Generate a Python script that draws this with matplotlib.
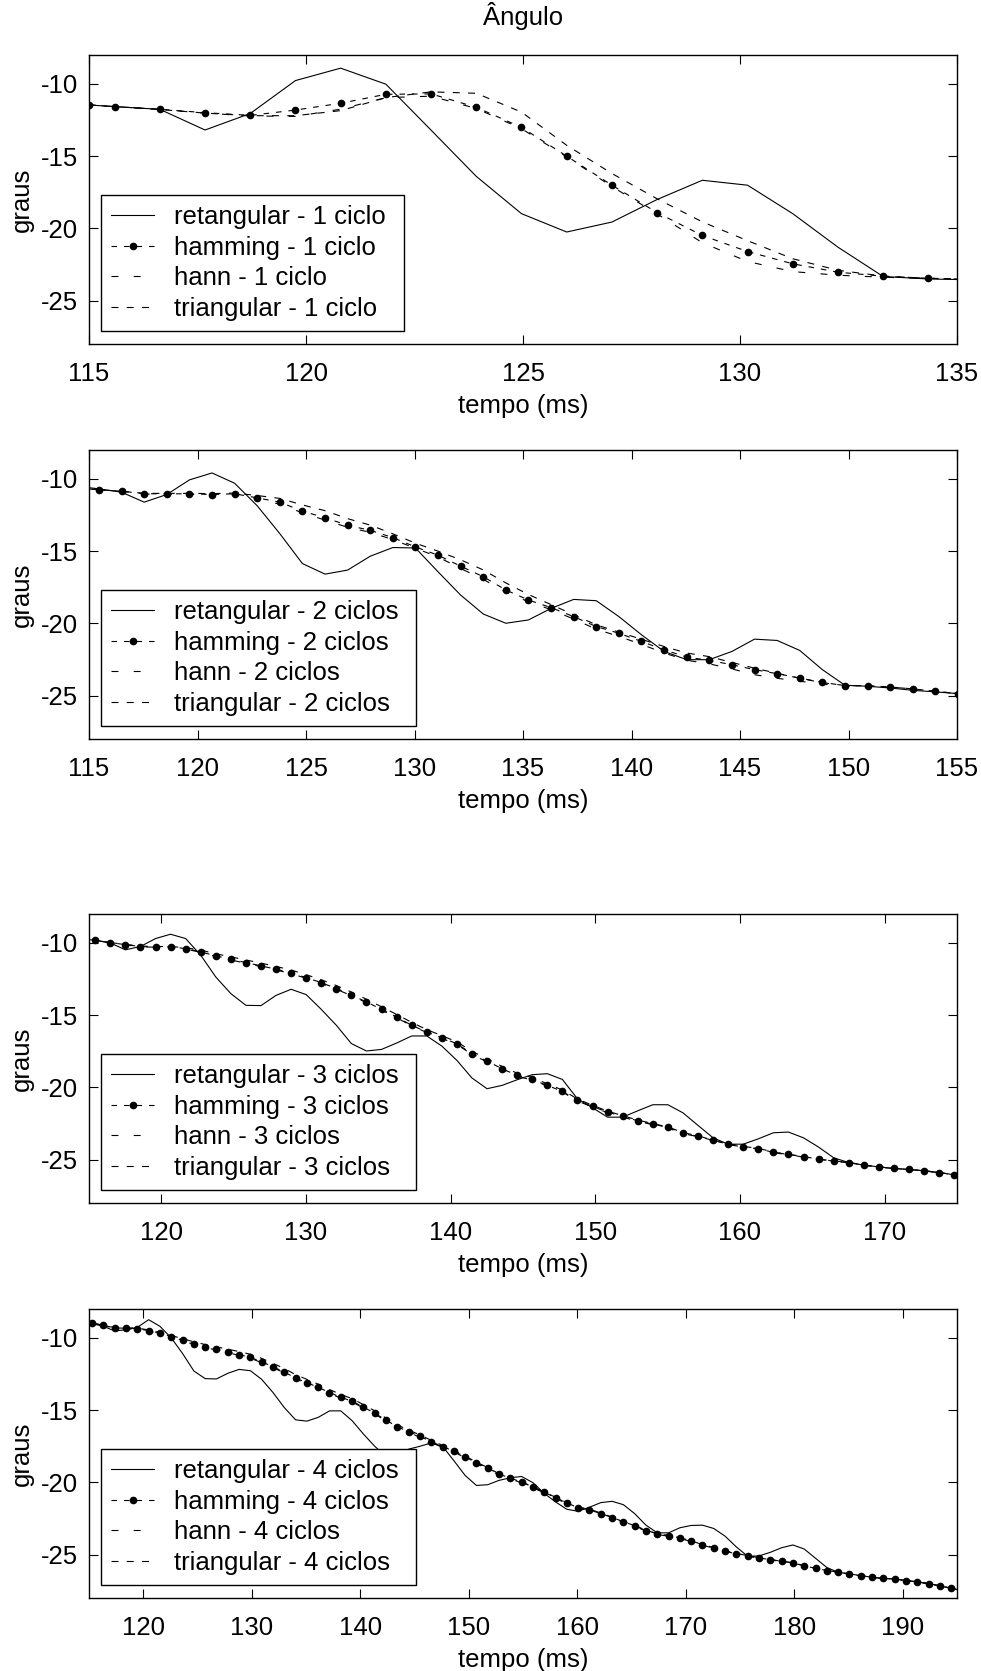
import numpy as np
import matplotlib
matplotlib.use("Agg")
import matplotlib.pyplot as plt

plt.rcParams['font.family'] = ['Liberation Sans', 'DejaVu Sans']
plt.rcParams['lines.scale_dashes'] = False
plt.rcParams['axes.unicode_minus'] = False

DT = 1.0417  # sampling period (ms)

# ---------------- Panel 1 (1 ciclo) ----------------
T1_FIRST = 115.0
T1_0 = 115.59
ret1 = [-11.46, -11.57, -11.76, -13.19, -12.05, -9.77, -8.91, -10.02, -13.2, -16.4, -18.98,
        -20.25, -19.56, -18.0, -16.67, -17.01, -18.98, -21.3, -23.33, -23.5, -23.56]
ham1 = [-11.46, -11.57, -11.76, -11.99, -12.18, -11.81, -11.34, -10.72, -10.69, -11.62, -13.01,
        -15.0, -17.01, -18.91, -20.49, -21.60, -22.45, -23.03, -23.31, -23.45, -23.52]
hann1 = [-11.46, -11.57, -11.77, -12.02, -12.22, -12.25, -11.75, -10.95, -10.85, -11.7, -13.1,
         -15.05, -17.1, -19.0, -20.99, -22.29, -22.99, -23.24, -23.38, -23.46, -23.52]
tri1 = [-11.46, -11.57, -11.77, -12.02, -12.2, -12.2, -11.85, -10.95, -10.55, -10.65, -11.95,
        -14.25, -16.2, -17.95, -19.55, -20.85, -22.1, -22.9, -23.3, -23.45, -23.52]

# ---------------- Panel 2 (2 ciclos) ----------------
T2_0 = 115.46
ret2 = [-10.5, -10.69, -10.92, -11.61, -11.08, -10.07, -9.59, -10.30, -11.86, -13.79, -15.86,
        -16.59, -16.31, -15.35, -14.75, -14.78, -16.43, -18.04, -19.35, -19.99, -19.76,
        -18.96, -18.34, -18.43, -19.53, -20.79, -21.94, -22.51, -22.51, -21.94, -21.09,
        -21.18, -21.87, -23.2, -24.28, -24.35, -24.47, -24.63, -24.74, -24.86]
ham2 = [-10.6, -10.76, -10.85, -11.03, -11.03, -11.03, -11.08, -11.03, -11.31, -11.61, -12.23,
        -12.69, -13.21, -13.56, -14.06, -14.71, -15.28, -16.04, -16.77, -17.69, -18.38,
        -18.91, -19.53, -20.22, -20.68, -21.25, -21.83, -22.33, -22.56, -22.86, -23.20,
        -23.48, -23.78, -24.08, -24.31, -24.31, -24.40, -24.53, -24.70, -24.86]
hann2 = [-10.6, -10.76, -10.86, -11.05, -11.06, -11.07, -11.12, -11.1, -11.4, -11.75, -12.35,
         -12.85, -13.35, -13.7, -14.2, -14.8, -15.4, -16.2, -16.95, -17.85, -18.5,
         -19.05, -19.7, -20.4, -20.9, -21.45, -22.05, -22.55, -22.8, -23.15, -23.55,
         -23.8, -24.0, -24.2, -24.35, -24.33, -24.42, -24.53, -24.70, -24.86]
tri2 = [-10.6, -10.76, -10.85, -11.0, -11.0, -11.0, -11.02, -10.98, -11.15, -11.35, -11.8,
        -12.2, -12.75, -13.2, -13.8, -14.45, -15.0, -15.6, -16.3, -17.2, -18.0,
        -18.7, -19.4, -20.1, -20.6, -21.1, -21.6, -22.05, -22.3, -22.7, -23.1,
        -23.45, -23.8, -24.1, -24.3, -24.32, -24.41, -24.53, -24.70, -24.86]

# ---------------- Panel 3 (3 ciclos) ----------------
T3_0 = 115.43
ret3 = [-9.7, -9.82, -10.0, -10.48, -10.25, -9.70, -9.40, -9.70, -10.85, -12.36, -13.51,
        -14.32, -14.34, -13.63, -13.21, -13.58, -14.60, -15.70, -16.97, -17.48, -17.37,
        -16.93, -16.44, -16.44, -17.14, -18.13, -19.35, -20.09, -19.86, -19.47,
        -19.12, -19.05, -19.45, -20.79, -21.41, -22.06, -22.06, -21.62, -21.20, -21.20,
        -21.76, -22.63, -23.49, -23.93, -23.93, -23.56, -23.14, -23.09, -23.49, -24.13,
        -24.87, -25.20, -25.38, -25.50, -25.61, -25.68, -25.77, -25.89, -26.05, -26.2]
ham3 = [-9.7, -9.82, -9.98, -10.12, -10.25, -10.28, -10.28, -10.39, -10.62, -10.90, -11.13,
        -11.36, -11.59, -11.82, -12.08, -12.40, -12.75, -13.16, -13.60, -14.09, -14.60,
        -15.13, -15.70, -16.17, -16.56, -16.98, -17.67, -18.18, -18.71, -19.17,
        -19.45, -19.86, -20.28, -20.90, -21.32, -21.71, -22.01, -22.31, -22.54, -22.77,
        -23.16, -23.39, -23.67, -23.93, -24.11, -24.23, -24.50, -24.64, -24.80, -24.97,
        -25.10, -25.20, -25.38, -25.50, -25.61, -25.68, -25.77, -25.89, -26.05, -26.2]
hann3 = [-9.7, -9.82, -9.99, -10.14, -10.27, -10.3, -10.3, -10.42, -10.66, -10.95, -11.18,
         -11.41, -11.64, -11.87, -12.13, -12.45, -12.8, -13.21, -13.65, -14.14, -14.65,
         -15.18, -15.74, -16.2, -16.6, -17.03, -17.72, -18.24, -18.76, -19.22,
         -19.5, -19.9, -20.32, -20.94, -21.36, -21.75, -22.05, -22.35, -22.58, -22.81,
         -23.19, -23.42, -23.7, -23.95, -24.13, -24.25, -24.52, -24.66, -24.82, -24.98,
         -25.11, -25.21, -25.39, -25.51, -25.62, -25.69, -25.78, -25.9, -26.05, -26.2]
tri3 = [-9.7, -9.82, -9.98, -10.1, -10.22, -10.25, -10.25, -10.33, -10.5, -10.75, -10.97,
        -11.18, -11.4, -11.63, -11.88, -12.2, -12.55, -12.95, -13.4, -13.9, -14.42,
        -14.95, -15.5, -16.0, -16.42, -16.85, -17.5, -18.02, -18.55, -19.02,
        -19.32, -19.75, -20.18, -20.8, -21.24, -21.64, -21.96, -22.26, -22.5, -22.74,
        -23.12, -23.36, -23.64, -23.9, -24.09, -24.21, -24.48, -24.63, -24.79, -24.96,
        -25.09, -25.19, -25.37, -25.5, -25.61, -25.68, -25.77, -25.89, -26.05, -26.2]

# ---------------- Panel 4 (4 ciclos) ----------------
T4_0 = 115.29
ret4 = [-8.85, -9.01, -9.20, -9.52, -9.43, -9.27, -8.74, -9.20, -10.0, -11.08, -12.29,
        -12.82, -12.84, -12.45, -12.18, -12.27, -12.87, -13.78, -14.82, -15.67, -15.76,
        -15.50, -15.05, -15.05, -15.73, -16.65, -17.50, -18.2, -18.3, -17.7, -17.50,
        -17.27, -17.50, -18.49, -19.52, -20.21, -20.16, -19.86, -19.68, -19.59,
        -20.02, -20.76, -21.35, -21.86, -22.0, -21.72, -21.40, -21.31, -21.54, -22.16,
        -22.96, -23.49, -23.49, -23.14, -22.98, -22.96, -23.19, -23.72, -24.47, -25.11,
        -25.09, -24.84, -24.52, -24.33, -24.61, -25.25, -25.89, -26.22, -26.33, -26.45,
        -26.56, -26.65, -26.68, -26.79, -26.88, -27.0, -27.16, -27.32, -27.5]
ham4 = [-8.85, -8.97, -9.13, -9.31, -9.33, -9.36, -9.50, -9.66, -9.91, -10.16, -10.39,
        -10.60, -10.78, -10.96, -11.15, -11.35, -11.65, -12.0, -12.36, -12.78, -13.10,
        -13.42, -13.78, -14.11, -14.38, -14.79, -15.21, -15.69, -16.15, -16.49, -16.81,
        -17.18, -17.52, -17.84, -18.23, -18.65, -19.01, -19.43, -19.70, -19.98,
        -20.32, -20.68, -21.05, -21.42, -21.75, -21.90, -22.16, -22.43, -22.71, -23.0,
        -23.33, -23.56, -23.69, -23.83, -24.06, -24.31, -24.52, -24.72, -24.93, -25.07,
        -25.23, -25.34, -25.46, -25.57, -25.78, -25.94, -26.10, -26.22, -26.33, -26.45,
        -26.56, -26.65, -26.68, -26.79, -26.88, -27.0, -27.16, -27.32, -27.5]
hann4 = [-8.85, -8.97, -9.14, -9.33, -9.36, -9.39, -9.53, -9.7, -9.96, -10.21, -10.44,
         -10.66, -10.84, -11.02, -11.21, -11.41, -11.71, -12.06, -12.42, -12.84, -13.16,
         -13.48, -13.84, -14.17, -14.44, -14.85, -15.27, -15.75, -16.21, -16.55, -16.87,
         -17.24, -17.58, -17.9, -18.29, -18.71, -19.07, -19.49, -19.76, -20.03,
         -20.37, -20.73, -21.1, -21.47, -21.8, -21.95, -22.2, -22.47, -22.75, -23.04,
         -23.37, -23.6, -23.73, -23.87, -24.1, -24.35, -24.55, -24.75, -24.96, -25.1,
         -25.26, -25.37, -25.48, -25.59, -25.8, -25.96, -26.12, -26.24, -26.35, -26.47,
         -26.57, -26.66, -26.69, -26.8, -26.89, -27.01, -27.17, -27.33, -27.5]
tri4 = [-8.85, -8.97, -9.12, -9.29, -9.3, -9.32, -9.45, -9.6, -9.83, -10.06, -10.27,
        -10.46, -10.62, -10.78, -10.95, -11.13, -11.42, -11.76, -12.12, -12.54, -12.87,
        -13.2, -13.57, -13.92, -14.2, -14.62, -15.05, -15.55, -16.02, -16.38, -16.71,
        -17.09, -17.44, -17.77, -18.17, -18.6, -18.97, -19.4, -19.68, -19.97,
        -20.3, -20.66, -21.03, -21.4, -21.7, -21.85, -22.12, -22.4, -22.68, -22.98,
        -23.31, -23.54, -23.68, -23.82, -24.05, -24.3, -24.51, -24.71, -24.92, -25.06,
        -25.22, -25.33, -25.45, -25.56, -25.77, -25.93, -26.09, -26.21, -26.33, -26.45,
        -26.56, -26.65, -26.68, -26.79, -26.88, -27.0, -27.16, -27.32, -27.5]

# time axes
t1 = np.concatenate([[T1_FIRST], T1_0 + DT * np.arange(len(ret1) - 1)])
t2 = T2_0 + DT * np.arange(-1, len(ret2) - 1)
t3 = T3_0 + DT * np.arange(-1, len(ret3) - 1)
t4 = T4_0 + DT * np.arange(-1, len(ret4) - 1)

panels = [
    (t1, ret1, ham1, hann1, tri1, "1 ciclo", (115, 135), np.arange(115, 136, 5)),
    (t2, ret2, ham2, hann2, tri2, "2 ciclos", (115, 155), np.arange(115, 156, 5)),
    (t3, ret3, ham3, hann3, tri3, "3 ciclos", (115, 175), np.arange(120, 171, 10)),
    (t4, ret4, ham4, hann4, tri4, "4 ciclos", (115, 195), np.arange(120, 191, 10)),
]
yticks = [-25, -20, -15, -10]

W, H = 981, 1671
fig = plt.figure(figsize=(W / 100, H / 100), dpi=100)
tops = [55, 450, 914, 1309]
AX_L, AX_W, AX_H = 89, 868, 289
FS = 18.5

ham_dash = (4, 5)
hann_dash = (5, 11)
tri_dash = (5, 6)
LW = 0.8

for (t, r, hm, hn, tr, suffix, xl, xt), top in zip(panels, tops):
    ax = fig.add_axes([AX_L / W, 1 - (top + AX_H) / H, AX_W / W, AX_H / H])
    l1, = ax.plot(t, r, color='black', lw=LW, ls='-')
    l2, = ax.plot(t, hm, color='black', lw=LW, dashes=ham_dash, marker='o', ms=4.5,
                  mfc='black', mec='black')
    l3, = ax.plot(t, hn, color='black', lw=LW, dashes=hann_dash)
    l4, = ax.plot(t, tr, color='black', lw=LW, dashes=tri_dash)
    ax.set_xlim(*xl)
    ax.set_ylim(-28, -8)
    ax.set_xticks(xt)
    ax.set_yticks(yticks)
    ax.tick_params(direction='in', length=6.5, width=0.8, top=True, right=True,
                   labelsize=FS, colors='black')
    ax.tick_params(axis='x', pad=13)
    ax.tick_params(axis='y', pad=8)
    for s in ax.spines.values():
        s.set_linewidth(1.0)
    ax.set_xlabel("tempo (ms)", fontsize=FS, labelpad=6)
    ax.set_ylabel("graus", fontsize=FS, labelpad=5)
    labels = ["retangular - " + suffix + " ", "hamming - " + suffix,
              "hann - " + suffix, "triangular - " + suffix]
    leg = ax.legend([l1, l2, l3, l4], labels, loc='lower left',
                    bbox_to_anchor=(0.014, 0.045), borderaxespad=0, frameon=True,
                    fancybox=False, edgecolor='black', framealpha=1, fontsize=FS,
                    handlelength=1.67, handletextpad=0.78, labelspacing=0.25,
                    borderpad=0.4, numpoints=1)
    leg.get_frame().set_linewidth(1.0)

fig.text(523 / W, 1 - 16 / H, "Ângulo", ha='center', va='center', fontsize=FS)

fig.savefig("out.png", dpi=100)
